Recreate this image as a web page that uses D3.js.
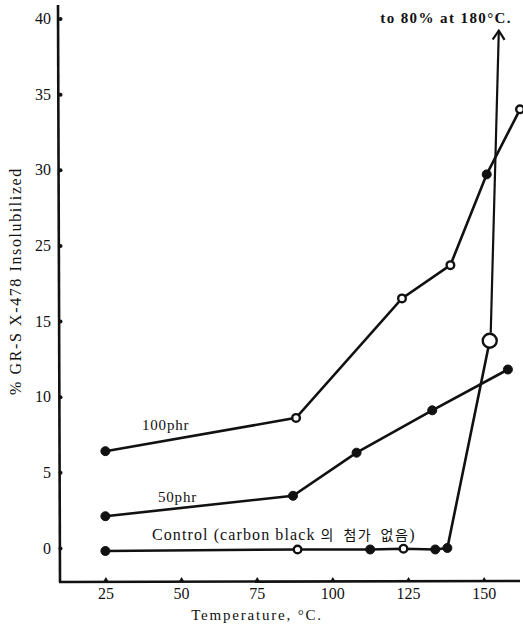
<!DOCTYPE html>
<html lang="ko">
<head>
<meta charset="utf-8">
<title>GR-S X-478 insolubilized vs temperature</title>
<script src="https://cdn.jsdelivr.net/npm/d3@7"></script>
<style>
  body { margin: 0; background: #fff; }
  svg text { fill: #111; }
</style>
</head>
<body>
<script>
// values (y in axis-position units; the printed labels skip "20")
var xTicks = [25, 50, 75, 100, 125, 150];
var yTickPos = [0, 5, 10, 15, 20, 25, 30, 35];
var yTickLabels = ["0", "5", "10", "15", "25", "30", "35", "40"];

var temps100 = [25, 88, 123, 139, 151, 162];
var vals100 = [6.4, 8.6, 16.5, 18.7, 24.7, 29.0];
var marks100 = ["filled", "open", "open", "open", "filled", "open"];

var temps50 = [25, 87, 108, 133, 158];
var vals50 = [2.1, 3.45, 6.3, 9.1, 11.8];
var marks50 = ["filled", "filled", "filled", "filled", "filled"];

var tempsCtl = [25, 88.5, 112.5, 123.5, 134, 138, 152];
var valsCtl = [-0.2, -0.1, -0.1, -0.05, -0.1, 0, 13.7];
var marksCtl = ["filled", "open", "filled", "open", "filled", "filled", "big"];

var arrowTip = [155, 34.2]; // "to 80% at 180°C."

var w = 523, h = 633;
var serif = "'Liberation Serif', 'DejaVu Serif', serif";

var x = d3.scaleLinear().domain([10, 162]).range([60, 520]);
var y = d3.scaleLinear().domain([-2.25, 35.7]).range([582, 8]);

var svg = d3.select("body").append("svg")
    .attr("width", w)
    .attr("height", h);

// open chevron arrow head, pointing along the line
svg.append("defs").append("marker")
    .attr("id", "arrow")
    .attr("viewBox", "0 0 14 14")
    .attr("refX", 12).attr("refY", 7)
    .attr("markerWidth", 14).attr("markerHeight", 14)
    .attr("markerUnits", "userSpaceOnUse")
    .attr("orient", "auto")
    .append("path")
    .attr("d", "M3,1 L12,7 L3,13")
    .attr("fill", "none")
    .attr("stroke", "#111")
    .attr("stroke-width", 2.2);

// axes (hand drawn look: thick black lines with small nubs)
svg.append("line")
    .attr("x1", 58).attr("y1", 5).attr("x2", 60).attr("y2", 582)
    .attr("stroke", "#111").attr("stroke-width", 2.6);
svg.append("line")
    .attr("x1", 59).attr("y1", 582).attr("x2", 520).attr("y2", 581)
    .attr("stroke", "#111").attr("stroke-width", 2.6);

var yAxis = d3.axisLeft(y)
    .tickValues(yTickPos)
    .tickSize(0)
    .tickPadding(8)
    .tickFormat(function(d, i) { return yTickLabels[i]; });
var gy = svg.append("g").attr("transform", "translate(59,0)").call(yAxis);
gy.select(".domain").remove();
gy.selectAll("text").attr("font-family", serif).attr("font-size", 16).attr("fill", "#111");
gy.selectAll(".tick").append("circle").attr("cx", 1.5).attr("r", 2).attr("fill", "#111");

var xAxis = d3.axisBottom(x).tickValues(xTicks).tickSize(0).tickPadding(6);
var gx = svg.append("g").attr("transform", "translate(0,582)").call(xAxis);
gx.select(".domain").remove();
gx.selectAll("text").attr("font-family", serif).attr("font-size", 16).attr("fill", "#111");
gx.selectAll(".tick").append("path").attr("d", "M-3,0 L0,-5 L3,0 Z").attr("fill", "#111");

svg.append("text")
    .attr("transform", "translate(21,281) rotate(-90)")
    .attr("text-anchor", "middle")
    .attr("font-family", serif)
    .attr("font-size", 16)
    .attr("letter-spacing", 1.6)
    .text("% GR-S X-478 Insolubilized");

svg.append("text")
    .attr("x", 257).attr("y", 620)
    .attr("text-anchor", "middle")
    .attr("font-family", serif)
    .attr("font-size", 15)
    .attr("letter-spacing", 1.8)
    .text("Temperature, °C.");

// series
var line = d3.line()
    .x(function(d) { return x(d[0]); })
    .y(function(d) { return y(d[1]); });

function drawSeries(temps, vals, marks) {
  var pts = temps.map(function(t, i) { return [t, vals[i], marks[i]]; });
  svg.append("path")
      .datum(pts)
      .attr("d", line)
      .attr("fill", "none")
      .attr("stroke", "#111")
      .attr("stroke-width", 2.6);
  svg.selectAll(null)
      .data(pts)
      .enter()
      .append("circle")
      .attr("cx", function(d) { return x(d[0]); })
      .attr("cy", function(d) { return y(d[1]); })
      .attr("r", function(d) { return d[2] == "big" ? 7 : (d[2] == "open" ? 3.8 : 4.5); })
      .attr("fill", function(d) { return d[2] == "filled" ? "#111" : "#fff"; })
      .attr("stroke", "#111")
      .attr("stroke-width", function(d) { return d[2] == "filled" ? 1 : 2.4; });
  return pts;
}

var ctl = drawSeries(tempsCtl, valsCtl, marksCtl);
// arrow continuing the control curve off the chart
var last = ctl[ctl.length - 1];
svg.append("line")
    .attr("x1", x(last[0]) + 1).attr("y1", y(last[1]) - 8)
    .attr("x2", x(arrowTip[0])).attr("y2", y(arrowTip[1]))
    .attr("stroke", "#111")
    .attr("stroke-width", 2.2)
    .attr("marker-end", "url(#arrow)");

drawSeries(temps50, vals50, marks50);
drawSeries(temps100, vals100, marks100);

// labels
svg.append("text")
    .attr("x", 142).attr("y", 430)
    .attr("font-family", serif).attr("font-size", 15)
    .attr("letter-spacing", 0.8)
    .text("100phr");
svg.append("text")
    .attr("x", 158).attr("y", 502)
    .attr("font-family", serif).attr("font-size", 15)
    .attr("letter-spacing", 0.8)
    .text("50phr");
var ctlLabel = svg.append("text")
    .attr("x", 152).attr("y", 540)
    .attr("font-family", serif).attr("font-size", 16)
    .attr("letter-spacing", 1.1);
ctlLabel.append("tspan").text("Control (carbon black ");
ctlLabel.append("tspan")
    .attr("font-family", "'Noto Sans CJK KR', sans-serif")
    .attr("font-size", 14)
    .attr("letter-spacing", 1.5)
    .attr("word-spacing", 3)
    .text("의 첨가 없음");
ctlLabel.append("tspan").text(")");
svg.append("text")
    .attr("x", 512).attr("y", 23)
    .attr("text-anchor", "end")
    .attr("font-family", serif).attr("font-size", 15)
    .attr("font-weight", "bold")
    .attr("letter-spacing", 1.4)
    .text("to 80% at 180°C.");
</script>
</body>
</html>
